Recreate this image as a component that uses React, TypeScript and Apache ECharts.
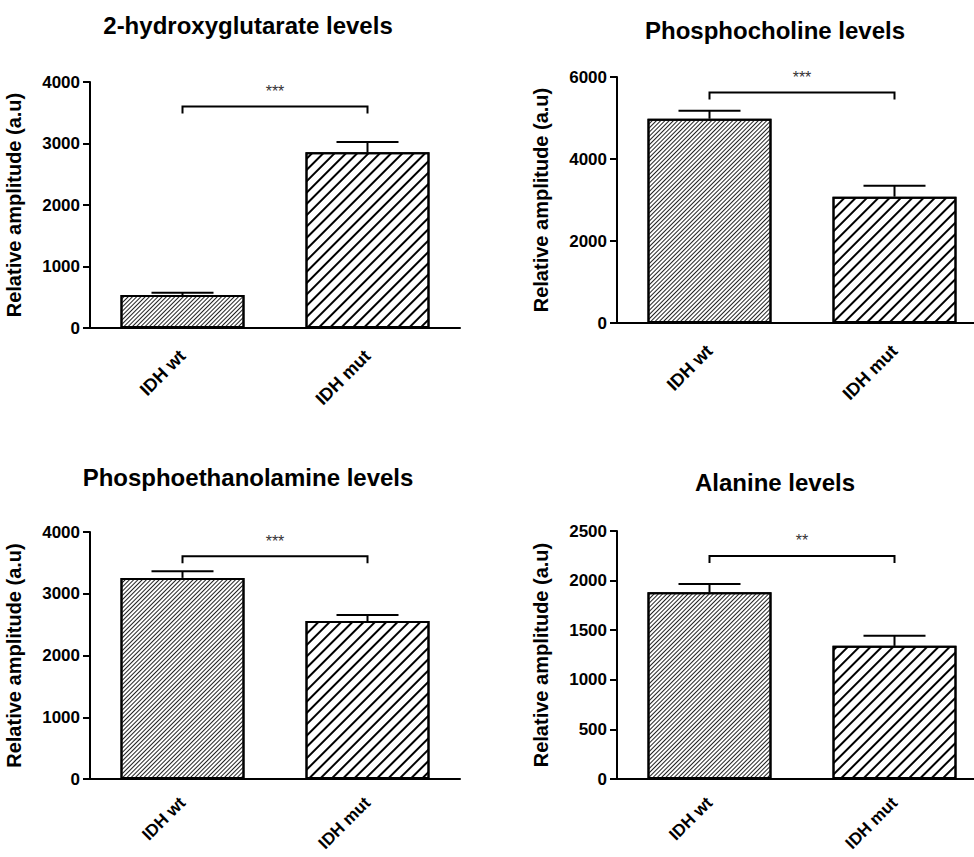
import React, { useEffect, useRef } from "react";
import * as echarts from "echarts";

const categories = ["IDH wt", "IDH mut"];
const panelTitles = [
  "2-hydroxyglutarate levels",
  "Phosphocholine levels",
  "Phosphoethanolamine levels",
  "Alanine levels",
];
const yAxisName = "Relative amplitude (a.u)";

// mean values and mean+SEM per panel
const hgMeans = [537, 2857];
const hgUpper = [575, 3024];
const pcMeans = [4982, 3081];
const pcUpper = [5177, 3350];
const peMeans = [3257, 2557];
const peUpper = [3365, 2654];
const alaMeans = [1883, 1342];
const alaUpper = [1966, 1443];

const bracketLevels = [3600, 5625, 3607, 2248];
const significance = ["***", "***", "***", "**"];

const yMax = [4000, 6000, 4000, 2500];
const yStep = [1000, 2000, 1000, 500];

const FONT = "'Liberation Sans', Arial, sans-serif";

const fineHatch = {
  symbol: "rect",
  symbolSize: 1,
  color: "#222",
  dashArrayX: [1, 0],
  dashArrayY: [1, 2],
  rotation: -Math.PI / 4,
};
const coarseHatch = {
  symbol: "rect",
  symbolSize: 1,
  color: "#000",
  dashArrayX: [1, 0],
  dashArrayY: [2, 6],
  rotation: -Math.PI / 4,
};

export default function App() {
  const ref = useRef<HTMLDivElement>(null);
  useEffect(() => {
    if (!ref.current) return;
    const chart = echarts.init(ref.current, null, { renderer: "svg" });
    const means = [hgMeans, pcMeans, peMeans, alaMeans];
    const uppers = [hgUpper, pcUpper, peUpper, alaUpper];
    const grids = [
      { left: 90, top: 82, width: 370, height: 246 },
      { left: 617, top: 77, width: 370, height: 246 },
      { left: 90, top: 532, width: 370, height: 247 },
      { left: 617, top: 531, width: 370, height: 248 },
    ].map((g) => ({ ...g, containLabel: false, outerBoundsMode: "none" }));
    const titlePos = [
      [248, 25],
      [775, 30],
      [248, 477],
      [775, 482],
    ];
    const series: any[] = [];
    const xAxis: any[] = [];
    const yAxis: any[] = [];
    const graphic: any[] = [];
    for (let i = 0; i < 4; i++) {
      const bottomRow = i >= 2;
      xAxis.push({
        type: "category",
        gridIndex: i,
        data: categories,
        axisLine: { lineStyle: { color: "#000", width: 2 } },
        axisTick: { alignWithLabel: true, length: 7, lineStyle: { color: "#000", width: 2 } },
        axisLabel: {
          rotate: 45,
          margin: bottomRow ? 21 : 25,
          color: "#000",
          fontSize: bottomRow ? 17 : 18,
          fontWeight: "bold",
          fontFamily: FONT,
        },
      });
      yAxis.push({
        type: "value",
        gridIndex: i,
        min: 0,
        max: yMax[i],
        interval: yStep[i],
        name: yAxisName,
        nameLocation: "middle",
        nameGap: 66,
        nameTextStyle: { color: "#000", fontSize: 20, fontWeight: "bold", fontFamily: FONT },
        splitLine: { show: false },
        axisLine: { show: true, lineStyle: { color: "#000", width: 2 } },
        axisTick: { show: true, length: 7, lineStyle: { color: "#000", width: 2 } },
        axisLabel: {
          color: "#000",
          fontSize: 17,
          fontWeight: "bold",
          fontFamily: FONT,
          margin: 10,
          formatter: (v: number) => String(v),
        },
      });
      series.push({
        type: "bar",
        xAxisIndex: i,
        yAxisIndex: i,
        barWidth: 124,
        z: 2,
        data: means[i].map((v, j) => ({
          value: v,
          itemStyle: {
            color: "#fff",
            borderColor: "#000",
            borderWidth: 2,
            decal: j === 0 ? fineHatch : coarseHatch,
          },
        })),
      });
      series.push({
        type: "custom",
        xAxisIndex: i,
        yAxisIndex: i,
        z: 3,
        encode: { x: 0, y: [1, 2] },
        data: means[i].map((v, j) => [j, v, uppers[i][j]]),
        renderItem: (params: any, api: any) => {
          const x = api.value(0);
          const base = api.coord([x, api.value(1)]);
          const top = api.coord([x, api.value(2)]);
          return {
            type: "group",
            children: [
              {
                type: "line",
                shape: { x1: top[0], y1: base[1], x2: top[0], y2: top[1] },
                style: { stroke: "#000", lineWidth: 2 },
              },
              {
                type: "line",
                shape: { x1: top[0] - 31, y1: top[1], x2: top[0] + 31, y2: top[1] },
                style: { stroke: "#000", lineWidth: 2 },
              },
            ],
          };
        },
      });
      const sig = significance[i];
      series.push({
        type: "custom",
        xAxisIndex: i,
        yAxisIndex: i,
        z: 3,
        encode: { x: [0, 1], y: 2 },
        data: [[0, 1, bracketLevels[i]]],
        renderItem: (params: any, api: any) => {
          const a = api.coord([api.value(0), api.value(2)]);
          const b = api.coord([api.value(1), api.value(2)]);
          return {
            type: "group",
            children: [
              {
                type: "polyline",
                shape: {
                  points: [
                    [a[0], a[1] + 7],
                    [a[0], a[1]],
                    [b[0], b[1]],
                    [b[0], b[1] + 7],
                  ],
                },
                style: { stroke: "#000", lineWidth: 2, fill: null },
              },
              {
                type: "text",
                style: {
                  text: sig,
                  x: (a[0] + b[0]) / 2,
                  y: a[1] - 15,
                  align: "center",
                  verticalAlign: "middle",
                  fontSize: 16,
                  fontFamily: FONT,
                  fill: "#333",
                },
              },
            ],
          };
        },
      });
      graphic.push({
        type: "text",
        x: titlePos[i][0],
        y: titlePos[i][1],
        style: {
          text: panelTitles[i],
          align: "center",
          verticalAlign: "middle",
          fontSize: 24,
          fontWeight: "bold",
          fontFamily: FONT,
          fill: "#000",
        },
      });
    }
    chart.setOption({
      animation: false,
      backgroundColor: "#fff",
      grid: grids,
      xAxis,
      yAxis,
      series,
      graphic,
    });
    return () => chart.dispose();
  }, []);
  return (
    <div
      ref={ref}
      style={{ position: "fixed", left: 0, top: 0, width: 974, height: 857 }}
    />
  );
}
